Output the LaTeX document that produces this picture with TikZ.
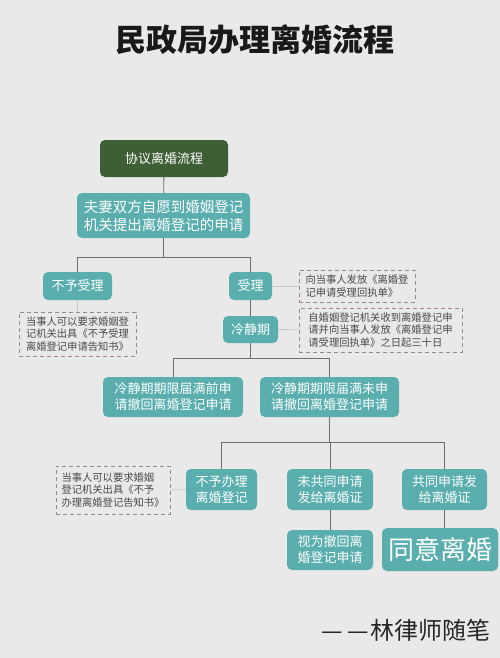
\documentclass[tikz,border=0pt]{standalone}
\usepackage{fontspec}
\newfontfamily\cjk{Noto Sans CJK SC}
\usetikzlibrary{positioning}
\definecolor{bgcol}{HTML}{E9E9E9}
\definecolor{boxteal}{HTML}{5AAEAE}
\definecolor{headgreen}{HTML}{3E5E36}
\definecolor{linegrey}{HTML}{6E6E6E}
\definecolor{faintgrey}{HTML}{C8C8C8}
\definecolor{notegrey}{HTML}{9A8888}
\definecolor{notetext}{HTML}{4A4A4A}

\begin{document}
\begin{tikzpicture}[x=1pt,y=-1pt,
  box/.style={rectangle, rounded corners=5pt, fill=boxteal, text=white, align=center,
    inner sep=2pt, font=\cjk\fontsize{13}{16}\selectfont},
  note/.style={rectangle, draw=notegrey, dash pattern=on 4pt off 3pt, line width=0.8pt,
    align=left, text=notetext, inner sep=3pt, font=\cjk\fontsize{10.3}{12.8}\selectfont},
  link/.style={draw=linegrey, line width=0.9pt},
  faint/.style={draw=faintgrey, line width=0.8pt}]
  \fill[bgcol] (0,0) rectangle (500,658);

  \node[font=\cjk\bfseries\fontsize{31}{36}\selectfont, text=black!90] (title) at (255,40) {民政局办理离婚流程};

  \node[box, fill=headgreen, minimum width=128pt, minimum height=37pt] (head) at (164,158.5) {协议离婚流程};
  \node[box, font=\cjk\fontsize{14.5}{18}\selectfont, minimum width=173pt, minimum height=45pt] (apply) at (163.5,215.5) {夫妻双方自愿到婚姻登记\\机关提出离婚登记的申请};
  \node[box, minimum width=69pt, minimum height=28pt] (refuse) at (77.5,286) {不予受理};
  \node[box, minimum width=43pt, minimum height=28pt] (accept) at (250.5,286) {受理};
  \node[box, minimum width=55pt, minimum height=27pt] (cool) at (250.5,329.5) {冷静期};
  \node[box, minimum width=140pt, minimum height=40pt] (early) at (173,397) {冷静期期限届满前申\\请撤回离婚登记申请};
  \node[box, minimum width=139pt, minimum height=40pt] (late) at (329.5,397) {冷静期期限届满未申\\请撤回离婚登记申请};
  \node[box, minimum width=71pt, minimum height=41pt] (deny) at (221.5,489.5) {不予办理\\离婚登记};
  \node[box, minimum width=86pt, minimum height=41pt] (nojoint) at (330,489.5) {未共同申请\\发给离婚证};
  \node[box, minimum width=85pt, minimum height=41pt] (joint) at (444.5,489.5) {共同申请发\\给离婚证};
  \node[box, minimum width=86pt, minimum height=40pt] (withdraw) at (330,550) {视为撤回离\\婚登记申请};
  \node[box, font=\cjk\fontsize{26}{30}\selectfont, minimum width=116pt, minimum height=43pt] (agree) at (440,549.5) {同意离婚};

  \node[note, minimum width=116pt, minimum height=32pt] (note1) at (357,286) {向当事人发放《离婚登\\记申请受理回执单》};
  \node[note, minimum width=163pt, minimum height=44pt] (note2) at (380.5,330) {自婚姻登记机关收到离婚登记申\\请并向当事人发放《离婚登记申\\请受理回执单》之日起三十日};
  \node[note, minimum width=117pt, minimum height=44pt] (note3) at (77.5,334) {当事人可以要求婚姻登\\记机关出具《不予受理\\离婚登记申请告知书》};
  \node[note, minimum width=114pt, minimum height=48pt] (note4) at (113,490) {当事人可以要求婚姻\\登记机关出具《不予\\办理离婚登记告知书》};

  \node[anchor=east, font=\cjk\fontsize{24}{28}\selectfont, text=black!85] (sign) at (494,630) {—\hspace{4pt}—\hspace{2pt}林律师随笔};

  \draw[link] (head) -- (apply);
  \draw[link] (apply.south) -- ++(0,19) -| (refuse.north);
  \draw[link] (apply.south) -- ++(0,19) -| (accept.north);
  \draw[link] (accept) -- (cool);
  \draw[link] (cool.south) -- ++(0,15) -| (early.north);
  \draw[link] (cool.south) -- ++(0,15) -| (late.north);
  \draw[link] (late.south) -- ++(0,25) -| (deny.north);
  \draw[link] (late.south) -- ++(0,25) -| (nojoint.north);
  \draw[link] (late.south) -- ++(0,25) -| (joint.north);
  \draw[link] (nojoint) -- (withdraw);
  \draw[link] (joint.south) -- (joint.south |- agree.north);

  \draw[faint] (accept) -- (note1);
  \draw[faint] (cool) -- (note2);
  \draw[faint] (refuse) -- (note3);
  \draw[faint] (note4) -- (deny);
\end{tikzpicture}
\end{document}
